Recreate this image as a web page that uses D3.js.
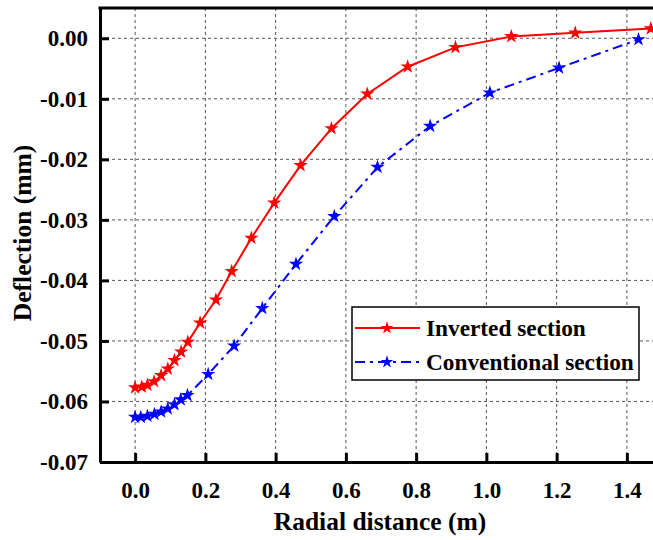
<!DOCTYPE html>
<html>
<head>
<meta charset="utf-8">
<script src="https://cdn.jsdelivr.net/npm/d3@7"></script>
<style>
  body { margin: 0; background: #fff; }
  svg { display: block; }
  text { font-family: "Liberation Serif", "Times New Roman", serif; font-weight: bold; }
</style>
</head>
<body>
<div id="container"></div>
<script>
var invertedX = [0, 0.019, 0.035, 0.054, 0.074, 0.093, 0.112, 0.131, 0.150, 0.185, 0.230,
  0.275, 0.331, 0.396, 0.471, 0.559, 0.661, 0.776, 0.912, 1.071, 1.253, 1.468];
var invertedY = [-0.0577, -0.0576, -0.0573, -0.0567, -0.0557, -0.0546, -0.0532, -0.0518, -0.0502, -0.0470, -0.0432,
  -0.0385, -0.0330, -0.0272, -0.0210, -0.0149, -0.0092, -0.0047, -0.0015, 0.0003, 0.0009, 0.0016];
var conventionalX = [0, 0.016, 0.035, 0.055, 0.074, 0.093, 0.112, 0.130, 0.149, 0.208,
  0.282, 0.362, 0.458, 0.567, 0.690, 0.840, 1.010, 1.207, 1.433];
var conventionalY = [-0.0626, -0.0626, -0.0624, -0.0621, -0.0617, -0.0612, -0.0605, -0.0597, -0.0590, -0.0555,
  -0.0508, -0.0446, -0.0373, -0.0294, -0.0213, -0.0145, -0.0090, -0.0049, -0.0002];
var xTicks = [0, 0.2, 0.4, 0.6, 0.8, 1.0, 1.2, 1.4];
var yTicks = [0, -0.01, -0.02, -0.03, -0.04, -0.05, -0.06, -0.07];
var seriesNames = ['Inverted section', 'Conventional section'];

var w = 653, h = 540,
  mLeft = 100, mTop = 8, mRight = 662, mBottom = 462;

var svg = d3.select('#container').append('svg')
  .attr('width', w).attr('height', h);

var x = d3.scaleLinear().domain([-0.1, 1.5]).range([mLeft, mRight]);
var y = d3.scaleLinear().domain([-0.07, 0.005]).range([mBottom, mTop]);

// grid
var grid = svg.append('g').attr('stroke', '#555').attr('stroke-width', 1)
  .attr('stroke-dasharray', '3,3');
grid.selectAll('.gx').data(xTicks).enter().append('line')
  .attr('x1', function (d) { return x(d); }).attr('x2', function (d) { return x(d); })
  .attr('y1', mTop).attr('y2', mBottom);
grid.selectAll('.gy').data(yTicks.slice(0, -1)).enter().append('line')
  .attr('y1', function (d) { return y(d); }).attr('y2', function (d) { return y(d); })
  .attr('x1', mLeft).attr('x2', mRight);

// axes
var xAxis = svg.append('g').attr('transform', 'translate(0,' + mBottom + ')')
  .call(d3.axisBottom(x).tickValues(xTicks).tickSizeInner(-9).tickSizeOuter(0)
    .tickPadding(20).tickFormat(d3.format('.1f')));
var yAxis = svg.append('g').attr('transform', 'translate(' + mLeft + ',0)')
  .call(d3.axisLeft(y).tickValues(yTicks).tickSizeInner(-9).tickSizeOuter(0)
    .tickPadding(12).tickFormat(function (d) { return d3.format('.2f')(d).replace('−', '-'); }));
[xAxis, yAxis].forEach(function (a) {
  a.attr('font-size', 23).attr('font-family', null);
  a.select('.domain').attr('stroke-width', 3);
  a.selectAll('.tick line').attr('stroke-width', 3);
  a.selectAll('.tick text').attr('fill', '#000');
});
xAxis.selectAll('.tick text').attr('dy', '0.68em');
// top / right spines
svg.append('line').attr('x1', mLeft - 1.5).attr('x2', mRight).attr('y1', mTop).attr('y2', mTop)
  .attr('stroke', '#000').attr('stroke-width', 3);
svg.append('line').attr('x1', mRight).attr('x2', mRight).attr('y1', mTop).attr('y2', mBottom)
  .attr('stroke', '#000').attr('stroke-width', 3);

// series
var series = [
  { name: seriesNames[0], xs: invertedX, ys: invertedY, color: '#ff0000', dash: null },
  { name: seriesNames[1], xs: conventionalX, ys: conventionalY, color: '#0000ff', dash: '10,5,3,5' }
];
var line = d3.line().x(function (d) { return x(d[0]); }).y(function (d) { return y(d[1]); });
var star = d3.symbol().type(d3.symbolStar).size(64);

series.forEach(function (s) {
  var pts = s.xs.map(function (v, i) { return [v, s.ys[i]]; });
  svg.append('path').datum(pts).attr('d', line)
    .attr('fill', 'none').attr('stroke', s.color).attr('stroke-width', 2)
    .attr('stroke-dasharray', s.dash);
  svg.selectAll(null).data(pts).enter().append('path')
    .attr('d', star)
    .attr('transform', function (d) { return 'translate(' + x(d[0]) + ',' + y(d[1]) + ')'; })
    .attr('fill', s.color);
});

// legend
var lg = svg.append('g');
lg.append('rect').attr('x', 352).attr('y', 307).attr('width', 287).attr('height', 73)
  .attr('fill', '#fff').attr('stroke', '#000').attr('stroke-width', 1.5);
series.forEach(function (s, i) {
  var ly = 328 + i * 34;
  lg.append('line').attr('x1', 355).attr('x2', 420).attr('y1', ly).attr('y2', ly)
    .attr('stroke', s.color).attr('stroke-width', 2).attr('stroke-dasharray', s.dash);
  lg.append('path').attr('d', d3.symbol().type(d3.symbolStar).size(50))
    .attr('transform', 'translate(387,' + ly + ')').attr('fill', s.color);
  lg.append('text').attr('x', 426).attr('y', ly).attr('dy', '0.35em')
    .attr('font-size', 23.3).text(s.name);
});

// axis titles
svg.append('text').attr('x', 380).attr('y', 530).attr('text-anchor', 'middle')
  .attr('font-size', 25.5).text('Radial distance (m)');
svg.append('text').attr('transform', 'translate(31,233) rotate(-90)').attr('text-anchor', 'middle')
  .attr('font-size', 25.5).text('Deflection (mm)');
</script>
</body>
</html>
